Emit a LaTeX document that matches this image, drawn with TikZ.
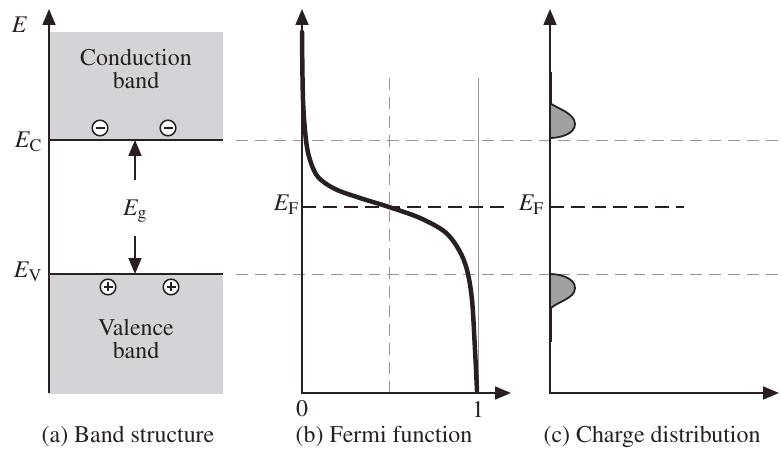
\documentclass[tikz,border=0pt]{standalone}
\usepackage[T1]{fontenc}
\usepackage{mathptmx}
\usetikzlibrary{arrows.meta}
\definecolor{ink}{RGB}{40,32,32}
\definecolor{bandgray}{RGB}{212,212,216}
\definecolor{bumpgray}{RGB}{160,160,162}
\definecolor{guidegray}{RGB}{150,150,150}
\newcommand{\En}[1]{$E_{\mathrm{#1}}$}
\tikzset{
  tip/.tip={Triangle[length=16pt,width=13pt]},
  axis/.style={draw=ink, line width=1.8pt, tip-tip},
  level/.style={draw=ink, line width=1.6pt},
  guide/.style={draw=guidegray, line width=0.9pt, dash pattern=on 12pt off 7pt},
  fermiline/.style={draw=ink, line width=1.9pt, dash pattern=on 14pt off 7pt},
  carrier/.style={draw=ink, line width=1.5pt, fill=white},
  lbl/.style={text=ink, inner sep=0pt}
}
\begin{document}
\begin{tikzpicture}[x=1bp, y=-1bp, font=\fontsize{24}{27}\selectfont]
  \useasboundingbox (0,0) rectangle (782,452);
  % (a) band structure
  \fill[bandgray] (49,32) rectangle (223,140);
  \fill[bandgray] (49,274) rectangle (223,394);
  \draw[level] (49,140) -- (223,140);
  \draw[level] (49,274) -- (223,274);
  \draw[axis, -tip] (49,393) -- (49,9);
  \node[lbl, anchor=base] (E) at (20,33) {$E$};
  \node[lbl, anchor=base east] (EC) at (42,148) {\En{C}};
  \node[lbl, anchor=base east] (EV) at (42,278) {\En{V}};
  \node[lbl] (cb) at (136,72) {\begin{tabular}{c}Conduction\\[-4pt]band\end{tabular}};
  \node[lbl] (vb) at (136,342) {\begin{tabular}{c}Valence\\[-4pt]band\end{tabular}};
  \foreach \x in {100,168} {
    \draw[carrier] (\x,128) circle (7.8);
    \draw[ink, line width=2.2pt] (\x-4.5,128) -- (\x+4.5,128);
  }
  \foreach \x in {108,171} {
    \draw[carrier] (\x,287) circle (7.8);
    \draw[ink, line width=2.2pt] (\x-4.5,287) -- (\x+4.5,287) (\x,282.5) -- (\x,291.5);
  }
  \node[lbl] (Eg) at (135,211) {\En{g}};
  \coordinate (up) at (135,180);
  \coordinate (down) at (135,236);
  \coordinate (ECmid) at (135,140);
  \coordinate (EVmid) at (135,274);
  \draw[ink, line width=1.6pt, -tip] (up) -- (ECmid);
  \draw[ink, line width=1.6pt, -tip] (down) -- (EVmid);
  \draw[guide] (236,140) -- (782,140);
  \draw[guide] (236,274) -- (782,274);
  % (b) Fermi function
  \draw[guide] (389,78) -- (389,393);
  \draw[guidegray, line width=0.9pt] (478,78) -- (478,393);
  \draw[fermiline] (302,207) -- (510,207);
  \draw[ink, line width=4.5pt, line cap=round] plot[smooth, tension=0.55] coordinates {
    (302,32) (303,100) (306,140) (310,160) (318,177) (335,189) (360,198) (389,207)
    (420,218) (445,232) (459,250) (467,270) (472,300) (475,350) (477,391)};
  \draw[axis] (302,9) -- (302,393) -- (511,393);
  \node[lbl, anchor=base east] (EF1) at (299,211) {\En{F}};
  \node[lbl] (zero) at (302,409) {0};
  \node[lbl] (one) at (478,409) {1};
  % (c) charge distribution
  \draw[fermiline] (550,207) -- (684,207);
  \draw[fill=bumpgray, draw=ink, line width=1.8pt]
    (550,103) .. controls (556,108) and (575,113) .. (575,124)
    .. controls (575,134) and (560,138) .. (550,138);
  \draw[fill=bumpgray, draw=ink, line width=1.8pt]
    (550,274) .. controls (560,274) and (575,278) .. (575,288)
    .. controls (575,299) and (556,302) .. (550,309);
  \draw[ink, line width=3pt] (550,72) -- (550,104) (550,308) -- (550,342);
  \draw[axis] (550,9) -- (550,393) -- (779,393);
  \node[lbl, anchor=base east] (EF2) at (544,211) {\En{F}};
  % captions
  \node[lbl] (capA) at (128,437) {(a) Band structure};
  \node[lbl] (capB) at (384,437) {(b) Fermi function};
  \node[lbl] (capC) at (652,437) {(c) Charge distribution};
\end{tikzpicture}
\end{document}
